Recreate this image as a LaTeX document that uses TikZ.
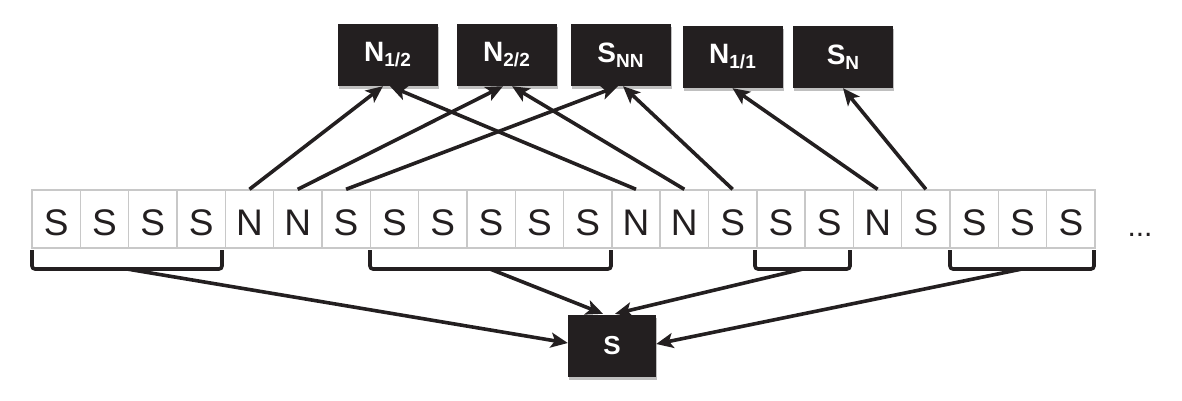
\documentclass[tikz,border=0pt]{standalone}
\usepackage{fontspec}
\setmainfont{Liberation Sans}
\usetikzlibrary{arrows.meta,calc,shadows}
\definecolor{boxfill}{HTML}{231F20}
\definecolor{cellline}{HTML}{C8C8C8}
\tikzset{
  cellbox/.style={draw=cellline, line width=1.4pt, inner sep=0pt, minimum width=48.32pt, minimum height=58pt,
     text height=32pt, text depth=0pt, font=\fontsize{37}{37}\selectfont, text=boxfill},
  darkbox/.style={fill=boxfill, inner sep=0pt, minimum width=100pt, minimum height=62pt, text=white,
     drop shadow={shadow xshift=1pt, shadow yshift=-3pt, opacity=0.25, fill=black}},
  arr/.style={line width=3.6pt, draw=boxfill, -{Stealth[length=17pt, width=15pt, inset=4pt]}},
  bracket/.style={line width=3.6pt, draw=boxfill, rounded corners=3pt},
}
\newcommand{\mainlab}[1]{{\fontsize{28}{28}\selectfont\bfseries #1}}
\newcommand{\sublab}[1]{\raisebox{-5pt}{\fontsize{19}{19}\selectfont\bfseries #1}}
\begin{document}
\begin{tikzpicture}[x=1pt, y=-1pt]
\useasboundingbox (0,0) rectangle (1182,401);
% cells
\foreach \l [count=\i] in {S,S,S,S,N,N,S,S,S,S,S,S,N,N,S,S,S,N,S,S,S,S}{
  \node[cellbox] (c\i) at ({32+(\i-0.5)*48.32},219) {\l};
}
\node[font=\fontsize{30}{30}\selectfont, text=boxfill, anchor=base] (dots) at (1140,236) {...};
% top boxes
\node[darkbox] (n12) at (387.5,55) {\mainlab{N}\sublab{1/2}};
\node[darkbox] (n22) at (506.5,55) {\mainlab{N}\sublab{2/2}};
\node[darkbox] (snn) at (620.5,55) {\mainlab{S}\sublab{NN}};
\node[darkbox] (n11) at (732.5,57) {\mainlab{N}\sublab{1/1}};
\node[darkbox] (sn)  at (843,57)   {\mainlab{S}\sublab{N}};
% bottom box
\node[darkbox, minimum width=88pt] (s) at (612,346) {{\fontsize{26}{26}\selectfont\bfseries S}};
% brackets
\draw[bracket] (32,250) -- (32,269) -- (222,269) -- (222,250);
\draw[bracket] (370,250) -- (370,269) -- (611,269) -- (611,250);
\draw[bracket] (755,250) -- (755,269) -- (850,269) -- (850,250);
\draw[bracket] (950,250) -- (950,269) -- (1094,269) -- (1094,250);
\coordinate (b1) at (127,269);
\coordinate (b2) at (490,269);
\coordinate (b3) at (803,269);
\coordinate (b4) at (1022,269);
% arrows to top
\draw[arr] (c5.north) -- ($(n12.south)+(-4.5,0)$);
\draw[arr] (c13.north) -- ($(n12.south)+(2.5,0)$);
\draw[arr] (c6.north) -- ($(n22.south)+(-3.5,0)$);
\draw[arr] (c14.north) -- ($(n22.south)+(5.5,0)$);
\draw[arr] (c7.north) -- ($(snn.south)+(-2.5,0)$);
\draw[arr] (c15.north) -- ($(snn.south)+(2.5,0)$);
\draw[arr] (c18.north) -- (n11.south);
\draw[arr] (c19.north) -- (sn.south);
% arrows to bottom
\draw[arr] (b1) -- ($(s.west)+(0,-3)$);
\draw[arr] (b2) -- ($(s.north)+(-9,-1)$);
\draw[arr] (b3) -- ($(s.north)+(3,-1)$);
\draw[arr] (b4) -- ($(s.east)+(0,-2)$);
\end{tikzpicture}
\end{document}
